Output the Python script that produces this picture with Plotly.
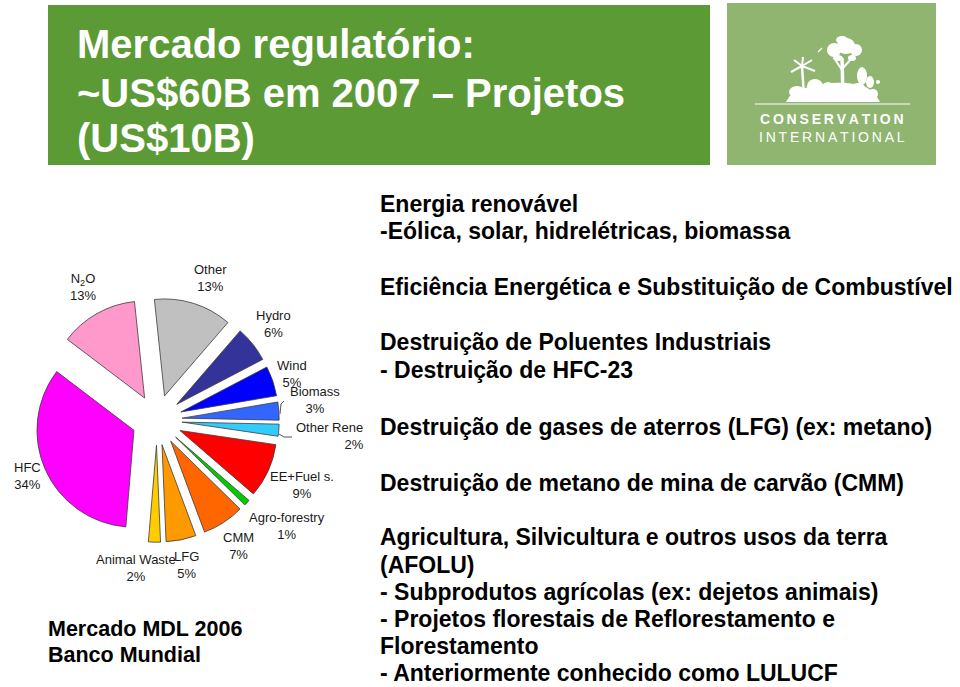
import plotly.graph_objects as go

# ---------------- data ----------------
sectors = ["Other", "Hydro", "Wind", "Biomass", "Other Renew", "EE+Fuel s.",
           "Agro-forestry", "CMM", "LFG", "Animal Waste", "HFC", "N2O"]
shares = [13, 6, 5, 3, 2, 9, 1, 7, 5, 2, 34, 13]
display_names = ["Other", "Hydro", "Wind", "Biomass", "Other Rene", "EE+Fuel s.",
                 "Agro-forestry", "CMM", "LFG", "Animal Waste", "HFC", "N<sub>2</sub>O"]

title_lines = ["Mercado regulatório:", "~US$60B em 2007 – Projetos", "(US$10B)"]
right_lines = [
    "Energia renovável",
    "-Eólica, solar, hidrelétricas, biomassa",
    "Eficiência Energética e Substituição de Combustível",
    "Destruição de Poluentes Industriais",
    "- Destruição de HFC-23",
    "Destruição de gases de aterros (LFG) (ex: metano)",
    "Destruição de metano de mina de carvão (CMM)",
    "Agricultura, Silvicultura e outros usos da terra",
    "(AFOLU)",
    "- Subprodutos agrícolas (ex: dejetos animais)",
    "- Projetos florestais de Reflorestamento e",
    "Florestamento",
    "- Anteriormente conhecido como LULUCF",
]
source_lines = ["Mercado MDL 2006", "Banco Mundial"]
logo_lines = ["CONSERVATION", "INTERNATIONAL"]

# ---------------- styles / positions ----------------
W, H = 960, 687
slice_colors = ["#C0C0C0", "#333399", "#0000FF", "#3366FF", "#33CCFF", "#FF0000",
                "#00CC00", "#FF6600", "#FF9900", "#FFCC00", "#FF00FF", "#FF99CC"]
label_pos = [(210, 278), (273, 324), (292, 374), (315, 400), (294, 436), (302, 485),
             (287, 526), (238, 546), (186, 565), (136, 568), (27, 476), (83, 287)]
label_anchor = ["center"] * 12
label_anchor[4] = "left"
title_y = [44, 93, 138]
right_y = [204, 231, 287, 342, 370, 427, 483, 537, 565, 592, 619, 646, 673]
source_y = [629, 655]

FONT = "Liberation Sans, Arial, Helvetica, sans-serif"


def px(x):
    return x / W


def py(y):
    return 1 - y / H


# pie geometry (pixels)
cx, cy, r, pull = 157, 420, 97, 0.26
half = r * (1 + pull)

fig = go.Figure()
fig.add_trace(go.Pie(
    values=shares, labels=sectors, sort=False, direction="clockwise",
    rotation=-6, pull=pull, textinfo="none", hoverinfo="label+percent",
    marker=dict(colors=slice_colors, line=dict(color="#3c3c3c", width=0.8)),
    domain=dict(x=[px(cx - half), px(cx + half)], y=[py(cy + half), py(cy - half)]),
    showlegend=False,
))

shapes = [
    dict(type="rect", xref="paper", yref="paper", x0=px(48), x1=px(710), y0=py(165), y1=py(5),
         fillcolor="#5C9A35", line=dict(width=0), layer="below"),
    dict(type="rect", xref="paper", yref="paper", x0=px(727), x1=px(936), y0=py(165), y1=py(3),
         fillcolor="#8FB571", line=dict(width=0), layer="below"),
    # logo rule
    dict(type="line", xref="paper", yref="paper", x0=px(755), x1=px(910), y0=py(104), y1=py(104),
         line=dict(color="white", width=1.2)),
    # leader lines
    dict(type="path", xref="paper", yref="paper",
         path=f"M {px(280)} {py(414)} L {px(281)} {py(404)} L {px(284)} {py(401)}",
         line=dict(color="#555", width=1)),
    dict(type="path", xref="paper", yref="paper",
         path=f"M {px(279)} {py(434)} L {px(284)} {py(437)} L {px(292)} {py(437)}",
         line=dict(color="#555", width=1)),
]


def blob(x, y, rx, ry):
    return dict(type="circle", xref="paper", yref="paper", x0=px(x - rx), x1=px(x + rx),
                y0=py(y + ry), y1=py(y - ry), fillcolor="white", line=dict(width=0))


def stroke(x0, y0, x1, y1, w=2):
    return dict(type="line", xref="paper", yref="paper", x0=px(x0), x1=px(x1),
                y0=py(y0), y1=py(y1), line=dict(color="white", width=w))


# simple white silhouette of the logo illustration
shapes += [
    dict(type="path", xref="paper", yref="paper",
         path=(f"M {px(786)} {py(102)} Q {px(792)} {py(90)} {px(805)} {py(88)} "
               f"Q {px(830)} {py(80)} {px(855)} {py(84)} Q {px(872)} {py(86)} {px(880)} {py(102)} Z"),
         fillcolor="white", line=dict(width=0)),
    # big tree
    stroke(843, 95, 842, 58, 3.5),
    stroke(842, 70, 834, 58, 2), stroke(843, 68, 852, 58, 2),
    blob(834, 50, 7, 7), blob(846, 46, 9, 8), blob(842, 40, 6, 4), blob(856, 50, 6, 6),
    blob(838, 58, 5, 3), blob(852, 58, 4, 3),
    # palm
    stroke(804, 96, 802, 66, 2.5),
    stroke(802, 66, 791, 72, 2), stroke(802, 66, 794, 60, 2), stroke(802, 66, 803, 57, 2),
    stroke(802, 66, 812, 60, 2), stroke(802, 66, 815, 71, 2),
    stroke(818, 52, 822, 48, 1.2),
    # leafy plants and undergrowth
    blob(862, 76, 5, 9), blob(870, 82, 4, 6),
    blob(797, 92, 8, 6), blob(815, 86, 8, 7), blob(828, 88, 6, 6),
    blob(858, 90, 8, 7), blob(873, 94, 5, 5), blob(878, 82, 2, 2),
]

annotations = []
for name, v, (lx, ly), anc in zip(display_names, shares, label_pos, label_anchor):
    annotations.append(dict(
        x=px(lx), y=py(ly), xref="paper", yref="paper", xanchor=anc, yanchor="middle",
        text=f"{name}<br>{v}%", showarrow=False, align="center" if anc == "center" else "right",
        font=dict(family=FONT, size=13, color="#1a1a1a")))

for t, y in zip(title_lines, title_y):
    annotations.append(dict(x=px(75), y=py(y), xref="paper", yref="paper", xanchor="left",
                            yanchor="middle", text=t, showarrow=False,
                            font=dict(family=FONT, size=40, color="white", weight="bold")))

for t, y in zip(right_lines, right_y):
    annotations.append(dict(x=px(379), y=py(y), xref="paper", yref="paper", xanchor="left",
                            yanchor="middle", text=t, showarrow=False, borderpad=0,
                            font=dict(family=FONT, size=23, color="black", weight="bold")))

for t, y in zip(source_lines, source_y):
    annotations.append(dict(x=px(46), y=py(y), xref="paper", yref="paper", xanchor="left",
                            yanchor="middle", text=t, showarrow=False,
                            font=dict(family=FONT, size=21.5, color="black", weight="bold")))

thin = "\u2009"
annotations.append(dict(
    x=px(832), y=py(128), xref="paper", yref="paper", xanchor="center", yanchor="middle",
    text=f"<b>{thin.join(logo_lines[0])}</b><br>{thin.join(logo_lines[1])}",
    showarrow=False, borderpad=0,
    font=dict(family=FONT, size=14, color="white")))

fig.update_layout(
    width=W, height=H, margin=dict(l=0, r=0, t=0, b=0),
    paper_bgcolor="white", plot_bgcolor="white",
    shapes=shapes, annotations=annotations,
)

fig.write_html("out.html", config={"displayModeBar": False})
